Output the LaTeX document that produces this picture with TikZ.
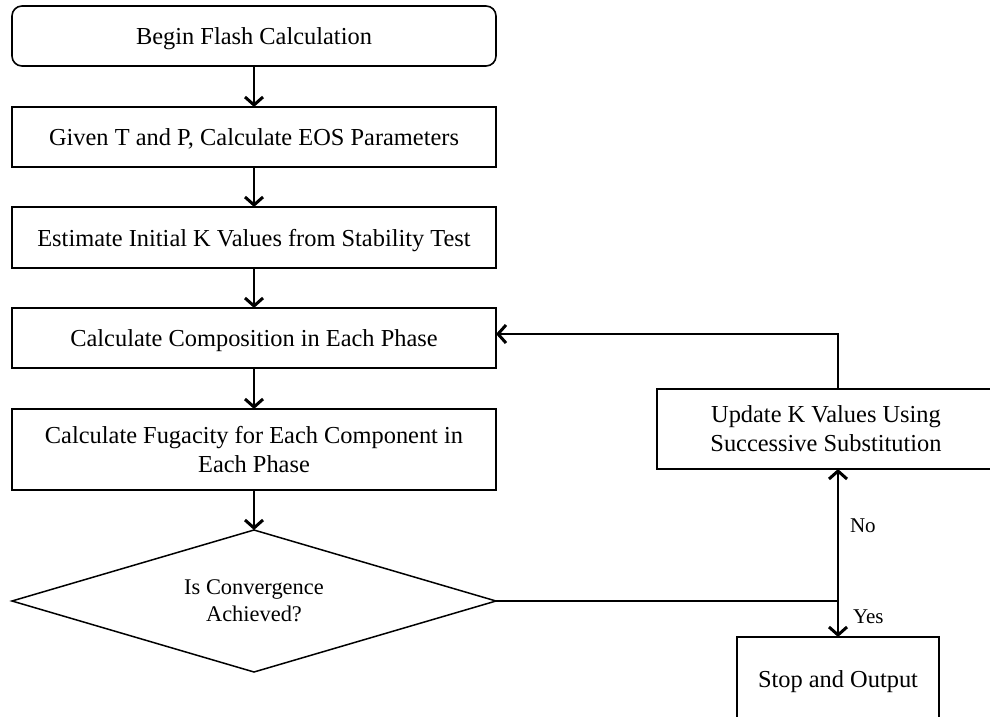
\documentclass[tikz,border=0pt]{standalone}
\usepackage{fontspec}
\setmainfont{Liberation Serif}
\usetikzlibrary{positioning,calc,shapes.geometric,arrows.meta}

\begin{document}
\begin{tikzpicture}[x=1pt, y=1pt,
  every node/.style={inner sep=0pt, outer sep=0pt, align=center, text depth=0pt, font=\fontsize{24.4}{29}\selectfont},
  box/.style={draw, line width=1.6pt, minimum width=484pt, minimum height=60pt},
  arr/.style={line width=1.5pt, -{Straight Barb[length=8pt, width=18pt, line width=3pt]}},
  lbl/.style={font=\fontsize{21}{25}\selectfont},
  node distance=40pt]
  \useasboundingbox (0,0) rectangle (990,-717);
  \node (begin) [box, rounded corners=10pt] at (254,-36) {Begin Flash Calculation};
  \node (eos) [box, below=41pt of begin] {Given T and P, Calculate EOS Parameters};
  \node (kinit) [box, below=of eos, minimum height=61pt] {Estimate Initial K Values from Stability Test};
  \node (comp) [box, below=of kinit] {Calculate Composition in Each Phase};
  \node (fug) [box, below=41pt of comp, minimum height=81pt] {Calculate Fugacity for Each Component in\\Each Phase};
  \node (conv) [diamond, draw, aspect=3, line width=1.5pt, minimum width=484pt, minimum height=142pt,
    below=of fug, font=\fontsize{22.4}{27}\selectfont] {Is Convergence\\Achieved?};
  \node (upd) [box, minimum width=338pt, minimum height=80pt] at (826,-429) {Update K Values Using\\Successive Substitution};
  \node (stop) [box, minimum width=202pt, minimum height=85pt] at (838,-679.5) {Stop and Output};
  \coordinate (j) at (stop.north |- conv.east);
  \foreach \a/\b in {begin/eos, eos/kinit, kinit/comp, comp/fug, fug/conv}
    \draw[arr] (\a) -- (\b);
  \draw[line width=1.5pt] (conv.east) -- (j);
  \draw[arr] (j) -- node[lbl, right=12pt, pos=0.57] {No} (j |- upd.south);
  \draw[arr] (j) -- node[lbl, right=15pt, pos=0.43] {Yes} (stop);
  \draw[arr] (upd.north -| j) |- ([yshift=4pt]comp.east);
\end{tikzpicture}
\end{document}
